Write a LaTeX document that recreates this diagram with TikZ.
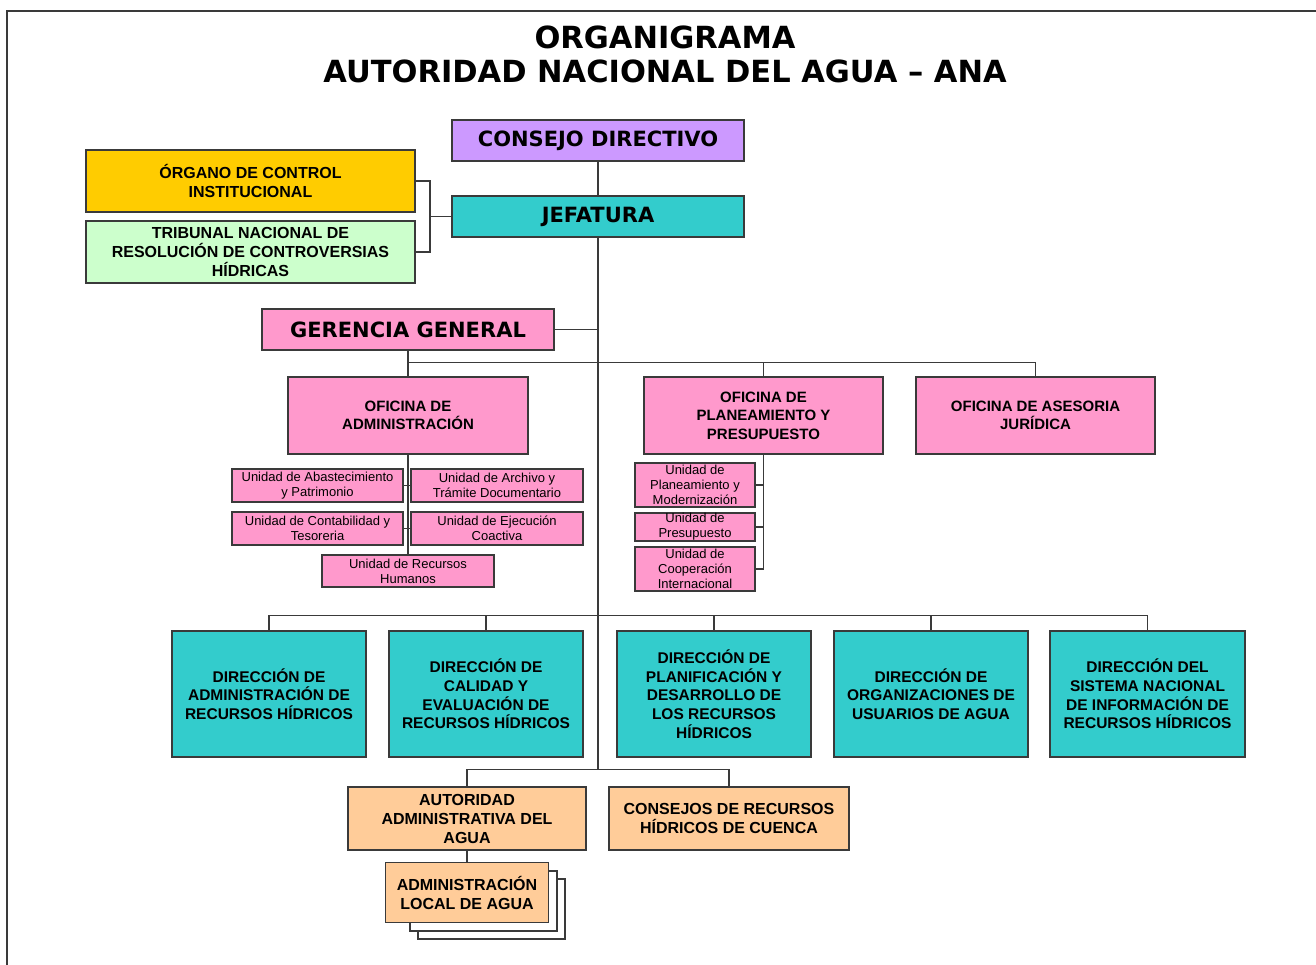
\documentclass[tikz,border=0pt]{standalone}
\usepackage{fontspec}
\setmainfont{Liberation Sans}
\newfontfamily\dvb{DejaVu Sans}
\definecolor{purplec}{HTML}{CC99FF}
\definecolor{tealc}{HTML}{33CCCC}
\definecolor{pinkc}{HTML}{FF99CC}
\definecolor{yellowc}{HTML}{FFCC00}
\definecolor{greenc}{HTML}{CCFFCC}
\definecolor{peachc}{HTML}{FFCC99}
\definecolor{linec}{HTML}{3A3A3A}
\tikzset{
  box/.style={draw=linec, line width=1.2pt, inner sep=0pt, align=center, text=black},
  conn/.style={draw=linec, line width=1.4pt},
  bigf/.style={font={\dvb\bfseries\fontsize{21}{25}\selectfont}},
  medf/.style={font={\bfseries\fontsize{16}{19}\selectfont}},
  offf/.style={font={\bfseries\fontsize{15}{18.5}\selectfont}},
  dirf/.style={font={\bfseries\fontsize{15.5}{18.7}\selectfont}},
  unitf/.style={font={\fontsize{13}{15}\selectfont}},
}
\begin{document}
\begin{tikzpicture}[x=1pt,y=-1pt]
\useasboundingbox (0,0) rectangle (1316,965);
% frame
\draw[draw=linec, line width=2pt] (7,965) -- (7,11) -- (1316,11);
% title
\node[font={\dvb\bfseries\fontsize{30.5}{34}\selectfont}] (t1) at (665,37) {ORGANIGRAMA};
\node[font={\dvb\bfseries\fontsize{30.5}{34}\selectfont}] (t2) at (665,71) {AUTORIDAD NACIONAL DEL AGUA – ANA};

% top level
\node[box, bigf, fill=purplec, minimum width=292pt, minimum height=41pt] (cd) at (598,140.5) {CONSEJO DIRECTIVO};
\node[box, bigf, fill=tealc, minimum width=292pt, minimum height=41pt] (jef) at (598,216.5) {JEFATURA};
\node[box, medf, fill=yellowc, minimum width=329pt, minimum height=62pt] (oci) at (250.5,181) {ÓRGANO DE CONTROL\\INSTITUCIONAL};
\node[box, medf, fill=greenc, minimum width=329pt, minimum height=62pt] (trib) at (250.5,252) {TRIBUNAL NACIONAL DE\\RESOLUCIÓN DE CONTROVERSIAS\\HÍDRICAS};
\node[box, bigf, fill=pinkc, minimum width=292pt, minimum height=41pt] (gg) at (408,329.5) {GERENCIA GENERAL};

% oficinas
\node[box, offf, fill=pinkc, minimum width=240pt, minimum height=77pt] (oa) at (408,415.5) {OFICINA DE\\ADMINISTRACIÓN};
\node[box, offf, fill=pinkc, minimum width=239pt, minimum height=77pt] (opp) at (763.5,415.5) {OFICINA DE\\PLANEAMIENTO Y\\PRESUPUESTO};
\node[box, offf, fill=pinkc, minimum width=239pt, minimum height=77pt] (oaj) at (1035.5,415.5) {OFICINA DE ASESORIA\\JURÍDICA};

% unidades administracion
\node[box, unitf, fill=pinkc, minimum width=171pt, minimum height=33pt] (u1) at (317.5,485.5) {Unidad de Abastecimiento\\y Patrimonio};
\node[box, unitf, fill=pinkc, minimum width=172pt, minimum height=33pt] (u2) at (497,485.5) {Unidad de Archivo y\\Trámite Documentario};
\node[box, unitf, fill=pinkc, minimum width=171pt, minimum height=33pt] (u3) at (317.5,528.5) {Unidad de Contabilidad y\\Tesoreria};
\node[box, unitf, fill=pinkc, minimum width=172pt, minimum height=33pt] (u4) at (497,528.5) {Unidad de Ejecución\\Coactiva};
\node[box, unitf, fill=pinkc, minimum width=172pt, minimum height=32pt] (u5) at (408,571) {Unidad de Recursos\\Humanos};

% unidades planeamiento
\node[box, unitf, fill=pinkc, minimum width=120pt, minimum height=44pt] (p1) at (695,485) {Unidad de\\Planeamiento y\\Modernización};
\node[box, unitf, fill=pinkc, minimum width=120pt, minimum height=28pt] (p2) at (695,527) {Unidad de\\Presupuesto};
\node[box, unitf, fill=pinkc, minimum width=120pt, minimum height=44pt] (p3) at (695,569) {Unidad de\\Cooperación\\Internacional};

% direcciones
\node[box, dirf, fill=tealc, minimum width=194pt, minimum height=126pt] (d1) at (269,694) {DIRECCIÓN DE\\ADMINISTRACIÓN DE\\RECURSOS HÍDRICOS};
\node[box, dirf, fill=tealc, minimum width=194pt, minimum height=126pt] (d2) at (486,694) {DIRECCIÓN DE\\CALIDAD Y\\EVALUACIÓN DE\\RECURSOS HÍDRICOS};
\node[box, dirf, fill=tealc, minimum width=194pt, minimum height=126pt] (d3) at (714,694) {DIRECCIÓN DE\\PLANIFICACIÓN Y\\DESARROLLO DE\\LOS RECURSOS\\HÍDRICOS};
\node[box, dirf, fill=tealc, minimum width=194pt, minimum height=126pt] (d4) at (931,694) {DIRECCIÓN DE\\ORGANIZACIONES DE\\USUARIOS DE AGUA};
\node[box, dirf, fill=tealc, minimum width=195pt, minimum height=126pt] (d5) at (1147.5,694) {DIRECCIÓN DEL\\SISTEMA NACIONAL\\DE INFORMACIÓN DE\\RECURSOS HÍDRICOS};

% bottom
\node[box, medf, fill=peachc, minimum width=238pt, minimum height=63pt] (aaa) at (467,818.5) {AUTORIDAD\\ADMINISTRATIVA DEL\\AGUA};
\node[box, medf, fill=peachc, minimum width=240pt, minimum height=63pt] (crh) at (729,818.5) {CONSEJOS DE RECURSOS\\HÍDRICOS DE CUENCA};
\draw[draw=linec, line width=1.2pt, fill=white] (418,879) rectangle (565,939);
\draw[draw=linec, line width=1.2pt, fill=white] (410,871) rectangle (557,931);
\node[box, medf, fill=peachc, minimum width=163pt, minimum height=60pt] (ala) at (467,892.5) {ADMINISTRACIÓN\\LOCAL DE AGUA};

% connectors
\coordinate (brk) at (430,216.5);
\coordinate (spine) at (598,770);
\draw[conn] (cd.south) -- (jef.north);
\draw[conn] (jef.south) -- (spine);
\draw[conn] (oci.east) -| (brk) |- (trib.east);
\draw[conn] (brk) -- (jef.west);
\draw[conn] (gg.east) -- (gg.east -| jef.south);
\draw[conn] (gg.south) -- (oa.north);
\draw[conn] (oa.north) ++(0,-14) -| (oaj.north);
\draw[conn] (opp.north) -- ++(0,-14);
% unidades
\draw[conn] (oa.south) -- (u5.north);
\draw[conn] (u1.east) -- (u2.west);
\draw[conn] (u3.east) -- (u4.west);
\draw[conn] (opp.south) |- (p3.east);
\draw[conn] (p1.east) -- (p1.east -| opp.south);
\draw[conn] (p2.east) -- (p2.east -| opp.south);
% direcciones
\draw[conn] (d1.north) -- ++(0,-15) -| (d5.north);
\draw[conn] (d2.north) -- ++(0,-15);
\draw[conn] (d3.north) -- ++(0,-15);
\draw[conn] (d4.north) -- ++(0,-15);
% bottom
\draw[conn] (aaa.north) -- ++(0,-17) -| (crh.north);
\draw[conn] (aaa.south) -- (ala.north);
\end{tikzpicture}
\end{document}
